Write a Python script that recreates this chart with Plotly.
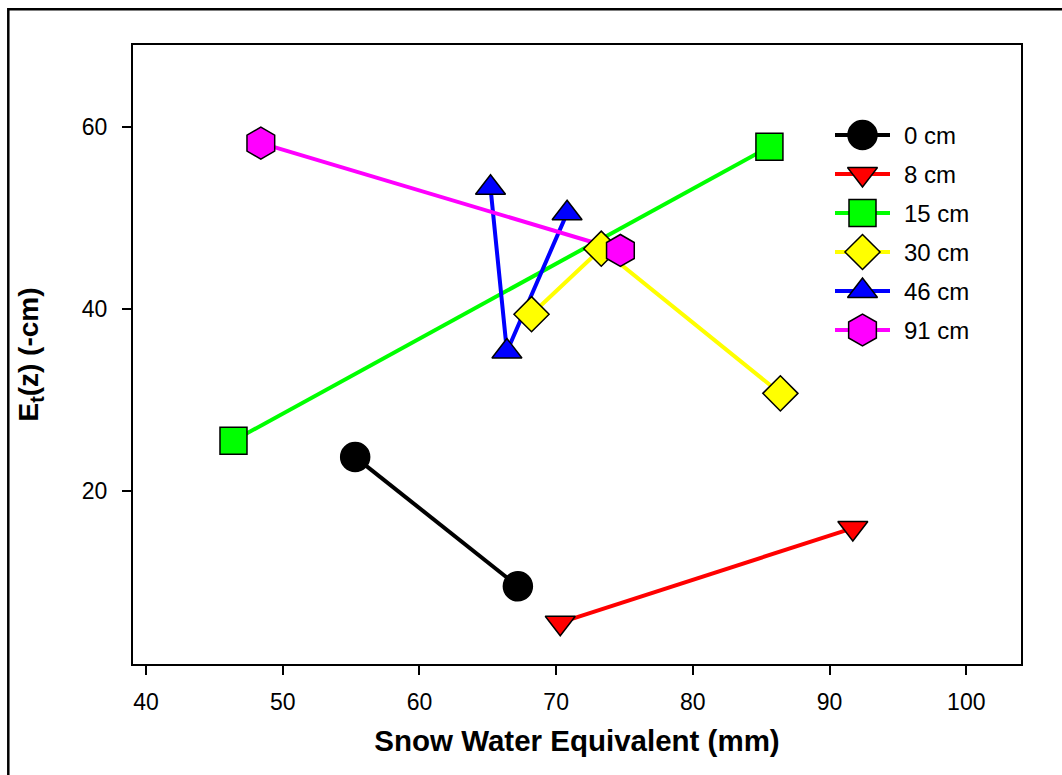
import plotly.graph_objects as go

# ---- data ----
series_names = ["0 cm", "8 cm", "15 cm", "30 cm", "46 cm", "91 cm"]
swe_0 = [55.3, 67.2]
et_0 = [23.7, 9.5]
swe_8 = [70.3, 91.7]
et_8 = [5.5, 15.9]
swe_15 = [46.4, 85.6]
et_15 = [25.5, 57.8]
swe_30 = [68.2, 73.3, 86.4]
et_30 = [39.4, 46.6, 30.7]
swe_46 = [65.2, 66.4, 70.8]
et_46 = [53.3, 35.3, 50.5]
swe_91 = [48.4, 74.7]
et_91 = [58.2, 46.4]

x_ticks = [40, 50, 60, 70, 80, 90, 100]
y_ticks = [20, 40, 60]

# ---- styles ----
colors = ["#000000", "#FF0000", "#00FF00", "#FFFF00", "#0000FF", "#FF00FF"]
symbols = ["circle", "triangle-down", "square", "diamond", "triangle-up", "hexagon"]
sizes = [29, 26, 27, 27, 26, 32]
FONT = "Liberation Sans, Arial, sans-serif"

xs = [swe_0, swe_8, swe_15, swe_30, swe_46, swe_91]
ys = [et_0, et_8, et_15, et_30, et_46, et_91]

fig = go.Figure()

# lines first (all under markers)
for x, y, c in zip(xs, ys, colors):
    fig.add_trace(go.Scatter(x=x, y=y, mode="lines", line=dict(color=c, width=4),
                             showlegend=False, hoverinfo="skip"))
# markers
for x, y, c, s, sz, n in zip(xs, ys, colors, symbols, sizes, series_names):
    fig.add_trace(go.Scatter(x=x, y=y, mode="markers", name=n,
                             marker=dict(color=c, symbol=s, size=sz,
                                         line=dict(color="black", width=1.5)),
                             showlegend=False))

L, R, T, B = 133, 41, 45, 111
W, H = 1062, 775
pw, ph = W - L - R, H - T - B

# ---- custom legend on an overlay axis (x2: 0..1 = sample line, y2: px offset from top) ----
LEG_X0, LEG_X1, LEG_XEND = 835, 890, 1010
LEG_TOP = 90
LEG_STEP = 39
for i, (c, s, sz, n) in enumerate(zip(colors, symbols, sizes, series_names)):
    row = LEG_TOP + i * LEG_STEP
    fig.add_trace(go.Scatter(x=[0, 1], y=[row, row], xaxis="x2", yaxis="y2", mode="lines",
                             line=dict(color=c, width=4), showlegend=False, hoverinfo="skip"))
    fig.add_trace(go.Scatter(x=[0.5], y=[row], xaxis="x2", yaxis="y2", mode="markers",
                             marker=dict(color=c, symbol=s, size=sz,
                                         line=dict(color="black", width=1.5)),
                             showlegend=False, hoverinfo="skip"))
    fig.add_annotation(x=(902 - LEG_X0) / (LEG_X1 - LEG_X0), y=row, xref="x2", yref="y2",
                       text=n, showarrow=False, xanchor="left", yanchor="middle",
                       font=dict(family=FONT, size=24, color="black"))

fig.update_layout(
    width=W, height=H,
    margin=dict(l=L, r=R, t=T, b=B, autoexpand=False),
    paper_bgcolor="white", plot_bgcolor="rgba(0,0,0,0)",
    font=dict(family=FONT, size=23, color="black"),
    xaxis=dict(range=[39.05, 104.0], tickvals=x_ticks, ticks="outside", ticklen=9, tickwidth=2,
               tickcolor="black", showline=True, linecolor="black", linewidth=2, mirror=True,
               showgrid=False, zeroline=False, tickfont=dict(size=23), ticklabelstandoff=7,
               title=dict(text="<b>Snow Water Equivalent (mm)</b>", font=dict(size=29.5), standoff=17)),
    yaxis=dict(range=[0.96, 68.98], tickvals=y_ticks, ticks="outside", ticklen=9, tickwidth=2,
               tickcolor="black", showline=True, linecolor="black", linewidth=2, mirror=True,
               showgrid=False, zeroline=False, tickfont=dict(size=23), ticklabelstandoff=10,
               title=dict(text="<b>E<sub>t</sub>(z) (-cm)</b>", font=dict(size=28), standoff=35)),
    xaxis2=dict(domain=[(LEG_X0 - L) / pw, (LEG_XEND - L) / pw],
                range=[0, (LEG_XEND - LEG_X0) / (LEG_X1 - LEG_X0)],
                visible=False, fixedrange=True, anchor="y2"),
    yaxis2=dict(domain=[0, 1], range=[ph, 0], visible=False, fixedrange=True, anchor="x2"),
    showlegend=False,
)

# outer frame
fig.add_shape(type="rect", xref="paper", yref="paper",
              x0=(8.3 - L) / pw, x1=(W + 20 - L) / pw,
              y0=-(H + 20 - T - ph) / ph, y1=1 + (T - 9.3) / ph,
              line=dict(color="black", width=2.5), fillcolor="rgba(0,0,0,0)", layer="below")

fig.write_html("out.html")
